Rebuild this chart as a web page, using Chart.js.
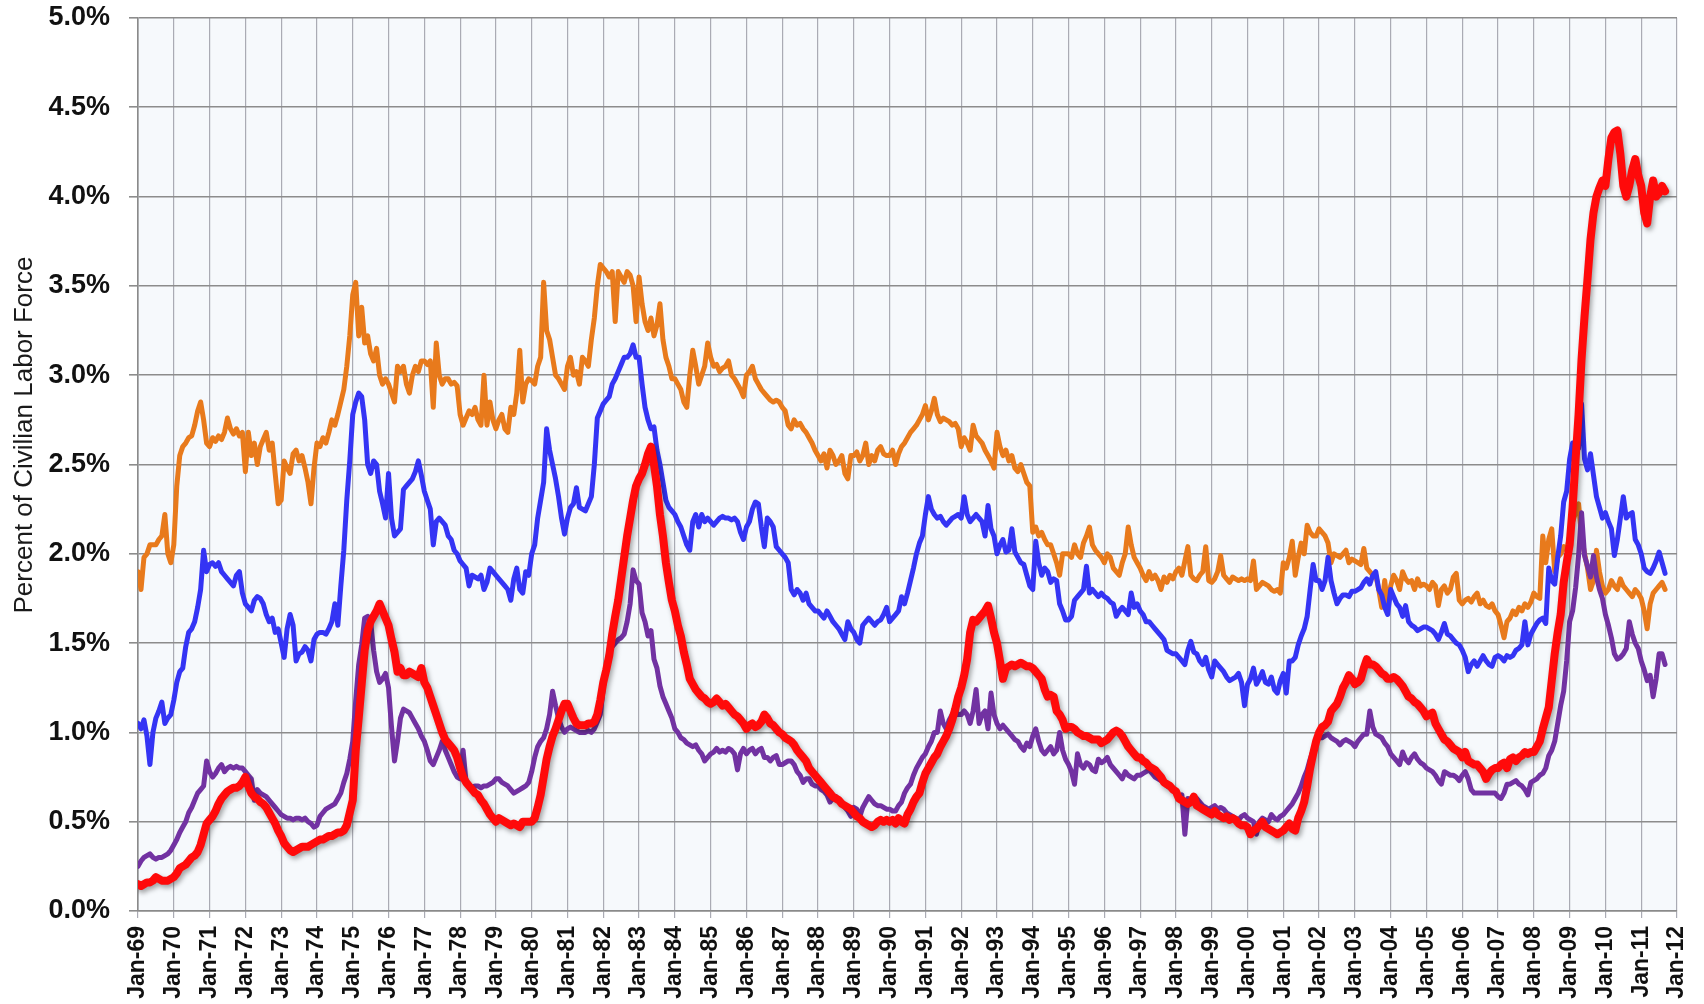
<!DOCTYPE html>
<html>
<head>
<meta charset="utf-8">
<script src="https://cdn.jsdelivr.net/npm/chart.js@4.4.1/dist/chart.umd.min.js"></script>
<style>
  html, body { margin: 0; padding: 0; background: #fff; }
  #wrap { width: 1704px; height: 1004px; position: relative; }
</style>
</head>
<body>
<div id="wrap"><canvas id="durationChart"></canvas></div>
<script>
// monthly, Jan-69 .. Sep-11 (percent of civilian labor force)
const yearTicks = ["Jan-69","Jan-70","Jan-71","Jan-72","Jan-73","Jan-74","Jan-75","Jan-76","Jan-77","Jan-78",
  "Jan-79","Jan-80","Jan-81","Jan-82","Jan-83","Jan-84","Jan-85","Jan-86","Jan-87","Jan-88","Jan-89",
  "Jan-90","Jan-91","Jan-92","Jan-93","Jan-94","Jan-95","Jan-96","Jan-97","Jan-98","Jan-99","Jan-00",
  "Jan-01","Jan-02","Jan-03","Jan-04","Jan-05","Jan-06","Jan-07","Jan-08","Jan-09","Jan-10","Jan-11","Jan-12"];

const yTitle = "Percent of Civilian Labor Force";

// less than 5 weeks (orange)
const under5 = [
  1.90,1.80,1.98,2.00,2.05,2.05,2.05,2.08,2.10,2.22,2.00,1.95,
  2.05,2.38,2.55,2.60,2.62,2.65,2.66,2.72,2.80,2.85,2.75,2.62,
  2.60,2.65,2.63,2.66,2.64,2.68,2.76,2.70,2.67,2.70,2.66,2.68,
  2.46,2.68,2.55,2.62,2.50,2.60,2.64,2.68,2.58,2.62,2.45,2.28,
  2.30,2.52,2.48,2.45,2.56,2.58,2.52,2.55,2.48,2.40,2.28,2.48,
  2.62,2.60,2.65,2.62,2.68,2.75,2.72,2.78,2.85,2.92,3.05,3.22,
  3.45,3.52,3.22,3.38,3.18,3.22,3.12,3.08,3.15,3.00,2.95,2.98,
  2.95,2.90,2.85,3.05,3.02,3.05,2.95,2.90,3.00,3.05,3.02,3.08,
  3.08,3.06,3.08,2.82,3.18,3.00,2.95,2.98,2.98,2.95,2.96,2.94,
  2.78,2.72,2.76,2.80,2.78,2.82,2.75,2.72,3.00,2.72,2.85,2.75,
  2.70,2.75,2.78,2.70,2.68,2.82,2.78,2.90,3.14,2.85,2.95,2.98,
  2.97,2.95,3.05,3.10,3.52,3.25,3.20,3.10,3.00,2.98,2.95,2.92,
  3.05,3.10,3.00,3.02,2.95,3.10,3.08,3.05,3.20,3.32,3.50,3.62,
  3.60,3.58,3.55,3.58,3.30,3.58,3.55,3.52,3.58,3.56,3.50,3.30,
  3.55,3.40,3.30,3.25,3.32,3.22,3.28,3.40,3.20,3.10,3.05,2.98,
  2.98,2.95,2.92,2.85,2.82,3.00,3.14,3.05,2.95,3.00,3.05,3.18,
  3.10,3.05,3.06,3.02,3.04,3.05,3.08,3.00,2.98,2.95,2.92,2.88,
  3.00,3.02,3.05,2.98,2.95,2.92,2.90,2.88,2.86,2.85,2.86,2.85,
  2.82,2.80,2.72,2.70,2.75,2.72,2.73,2.70,2.68,2.65,2.62,2.58,
  2.55,2.52,2.56,2.48,2.58,2.55,2.50,2.52,2.55,2.45,2.42,2.55,
  2.55,2.57,2.52,2.55,2.62,2.50,2.55,2.52,2.58,2.60,2.56,2.55,
  2.55,2.58,2.50,2.56,2.60,2.62,2.65,2.68,2.70,2.72,2.75,2.78,
  2.83,2.75,2.80,2.87,2.78,2.74,2.76,2.75,2.74,2.72,2.73,2.70,
  2.60,2.65,2.62,2.58,2.72,2.66,2.64,2.62,2.58,2.55,2.52,2.48,
  2.68,2.60,2.55,2.58,2.52,2.55,2.48,2.46,2.50,2.45,2.40,2.38,
  2.12,2.15,2.10,2.12,2.08,2.05,2.05,2.00,1.95,1.88,2.00,2.00,
  2.00,1.98,2.05,2.00,1.98,2.06,2.10,2.15,2.05,2.02,2.00,1.98,
  1.95,2.00,1.98,1.92,1.90,1.88,1.95,2.00,2.15,2.05,1.98,1.95,
  1.92,1.88,1.85,1.90,1.86,1.88,1.85,1.80,1.87,1.84,1.88,1.86,
  1.90,1.92,1.88,1.96,2.04,1.88,1.86,1.85,1.88,1.90,2.04,1.85,
  1.84,1.86,1.90,1.99,1.88,1.86,1.84,1.87,1.86,1.85,1.86,1.85,
  1.86,1.85,1.96,1.80,1.82,1.84,1.83,1.82,1.80,1.79,1.80,1.78,
  1.95,1.92,1.98,2.07,1.88,1.98,2.06,2.00,2.16,2.12,2.10,2.10,
  2.14,2.12,2.10,2.06,1.95,2.00,1.99,1.98,2.00,2.02,1.95,1.97,
  1.96,1.95,1.94,2.03,1.92,1.90,1.88,1.88,1.80,1.70,1.85,1.70,
  1.82,1.88,1.85,1.80,1.90,1.86,1.84,1.85,1.80,1.86,1.82,1.83,
  1.82,1.80,1.84,1.82,1.71,1.80,1.82,1.78,1.80,1.87,1.89,1.74,
  1.72,1.74,1.75,1.73,1.76,1.78,1.72,1.74,1.71,1.70,1.72,1.68,
  1.66,1.60,1.53,1.62,1.64,1.68,1.66,1.70,1.68,1.72,1.70,1.73,
  1.78,1.76,1.75,2.10,1.95,2.08,2.14,1.90,1.98,2.00,2.04,2.02,
  2.10,2.18,2.23,2.28,2.10,2.00,1.92,1.80,1.85,2.02,1.90,1.82,
  1.78,1.80,1.85,1.82,1.80,1.86,1.82,1.80,1.78,1.76,1.80,1.78,
  1.75,1.68,1.58,1.72,1.78,1.80,1.82,1.84,1.80
];

// 5 to 14 weeks (blue)
const weeks5to14 = [
  1.05,1.02,1.07,0.98,0.82,1.00,1.08,1.12,1.17,1.05,1.08,1.10,
  1.18,1.28,1.34,1.36,1.48,1.56,1.58,1.62,1.70,1.80,2.02,1.90,
  1.94,1.95,1.93,1.95,1.90,1.88,1.86,1.84,1.82,1.88,1.90,1.78,
  1.72,1.70,1.68,1.74,1.76,1.75,1.72,1.66,1.62,1.64,1.56,1.58,
  1.50,1.42,1.58,1.66,1.60,1.40,1.44,1.45,1.48,1.46,1.40,1.52,
  1.55,1.56,1.56,1.55,1.58,1.62,1.72,1.60,1.82,2.02,2.30,2.52,
  2.78,2.85,2.90,2.88,2.75,2.50,2.45,2.52,2.50,2.35,2.28,2.20,
  2.45,2.20,2.10,2.12,2.14,2.36,2.38,2.40,2.42,2.46,2.52,2.44,
  2.35,2.30,2.25,2.05,2.18,2.20,2.18,2.16,2.10,2.08,2.02,2.00,
  1.96,1.94,1.92,1.82,1.88,1.87,1.86,1.88,1.80,1.84,1.92,1.90,
  1.88,1.86,1.84,1.82,1.80,1.74,1.86,1.92,1.80,1.78,1.90,1.88,
  2.00,2.05,2.20,2.30,2.40,2.70,2.58,2.50,2.42,2.32,2.20,2.11,
  2.20,2.26,2.28,2.37,2.26,2.25,2.24,2.28,2.32,2.50,2.76,2.80,
  2.84,2.86,2.88,2.95,2.98,3.02,3.06,3.10,3.10,3.12,3.17,3.10,
  3.10,2.95,2.82,2.75,2.70,2.71,2.58,2.50,2.40,2.30,2.26,2.24,
  2.22,2.18,2.15,2.10,2.05,2.02,2.18,2.22,2.15,2.22,2.18,2.20,
  2.18,2.16,2.18,2.20,2.21,2.20,2.20,2.19,2.20,2.18,2.12,2.08,
  2.15,2.18,2.25,2.29,2.28,2.15,2.04,2.20,2.18,2.15,2.04,2.02,
  2.00,1.98,1.95,1.80,1.77,1.80,1.78,1.74,1.78,1.72,1.70,1.68,
  1.68,1.66,1.64,1.68,1.65,1.62,1.60,1.58,1.55,1.52,1.62,1.58,
  1.56,1.52,1.50,1.60,1.62,1.64,1.62,1.60,1.62,1.63,1.66,1.70,
  1.62,1.64,1.66,1.68,1.76,1.72,1.78,1.85,1.92,2.00,2.06,2.10,
  2.22,2.32,2.25,2.22,2.20,2.21,2.18,2.16,2.18,2.20,2.21,2.22,
  2.20,2.32,2.22,2.18,2.20,2.22,2.20,2.18,2.10,2.27,2.14,2.10,
  2.00,2.05,2.08,2.01,2.02,2.14,2.01,1.98,1.95,1.94,1.88,1.82,
  1.80,2.07,1.95,1.88,1.92,1.90,1.84,1.86,1.85,1.72,1.68,1.63,
  1.63,1.65,1.74,1.76,1.78,1.80,1.93,1.78,1.80,1.78,1.76,1.78,
  1.76,1.75,1.73,1.72,1.65,1.68,1.70,1.68,1.66,1.78,1.70,1.72,
  1.68,1.66,1.62,1.62,1.60,1.58,1.56,1.54,1.52,1.46,1.45,1.44,
  1.44,1.42,1.40,1.38,1.46,1.51,1.45,1.44,1.40,1.38,1.42,1.35,
  1.31,1.40,1.38,1.36,1.34,1.31,1.29,1.30,1.31,1.33,1.28,1.15,
  1.27,1.30,1.36,1.27,1.30,1.34,1.28,1.27,1.31,1.24,1.22,1.29,
  1.33,1.22,1.40,1.40,1.42,1.49,1.54,1.58,1.65,1.80,1.94,1.85,
  1.85,1.80,1.85,1.98,1.85,1.78,1.72,1.75,1.77,1.77,1.76,1.79,
  1.79,1.80,1.81,1.84,1.86,1.83,1.88,1.90,1.80,1.77,1.70,1.66,
  1.80,1.76,1.72,1.70,1.65,1.71,1.62,1.60,1.59,1.57,1.58,1.59,
  1.59,1.58,1.57,1.55,1.52,1.56,1.61,1.55,1.54,1.52,1.50,1.49,
  1.46,1.42,1.34,1.38,1.40,1.37,1.40,1.43,1.40,1.38,1.37,1.42,
  1.43,1.42,1.40,1.43,1.42,1.43,1.46,1.47,1.49,1.62,1.49,1.55,
  1.58,1.61,1.63,1.64,1.61,1.92,1.85,1.83,1.98,2.10,2.29,2.35,
  2.53,2.62,2.60,2.59,2.84,2.53,2.47,2.56,2.44,2.32,2.26,2.20,
  2.23,2.18,2.14,1.99,2.08,2.20,2.32,2.20,2.22,2.23,2.08,2.05,
  2.00,1.92,1.90,1.89,1.92,1.96,2.01,1.95,1.89
];

// 15 to 26 weeks (purple)
const weeks15to26 = [
  0.25,0.28,0.30,0.31,0.32,0.30,0.29,0.30,0.30,0.31,0.32,0.34,
  0.37,0.40,0.44,0.47,0.50,0.55,0.58,0.62,0.66,0.68,0.70,0.84,
  0.78,0.75,0.77,0.80,0.82,0.78,0.80,0.81,0.80,0.81,0.80,0.80,
  0.78,0.76,0.74,0.62,0.68,0.66,0.65,0.64,0.62,0.60,0.58,0.56,
  0.54,0.53,0.52,0.52,0.51,0.52,0.52,0.51,0.52,0.50,0.49,0.47,
  0.48,0.53,0.55,0.57,0.58,0.59,0.60,0.63,0.66,0.72,0.77,0.85,
  0.95,1.18,1.38,1.49,1.64,1.65,1.62,1.46,1.34,1.28,1.30,1.33,
  1.25,1.03,0.84,0.95,1.08,1.13,1.12,1.11,1.08,1.05,1.02,0.98,
  0.95,0.90,0.84,0.82,0.86,0.90,0.95,0.90,0.86,0.82,0.78,0.75,
  0.74,0.90,0.72,0.70,0.69,0.70,0.70,0.69,0.70,0.70,0.71,0.72,
  0.74,0.74,0.72,0.71,0.70,0.68,0.66,0.67,0.68,0.69,0.70,0.72,
  0.78,0.86,0.92,0.95,0.97,1.02,1.10,1.23,1.15,1.08,1.03,1.00,
  1.02,1.03,1.02,1.01,1.00,1.00,1.00,1.01,1.00,1.02,1.06,1.10,
  1.25,1.36,1.47,1.48,1.50,1.52,1.53,1.55,1.62,1.72,1.91,1.85,
  1.83,1.67,1.62,1.54,1.57,1.41,1.36,1.26,1.20,1.16,1.12,1.08,
  1.02,1.00,0.97,0.96,0.94,0.93,0.92,0.93,0.90,0.88,0.84,0.86,
  0.88,0.89,0.91,0.89,0.90,0.89,0.91,0.90,0.88,0.79,0.88,0.91,
  0.88,0.90,0.91,0.88,0.90,0.91,0.86,0.86,0.84,0.86,0.87,0.82,
  0.82,0.83,0.84,0.84,0.82,0.78,0.76,0.72,0.74,0.74,0.71,0.70,
  0.70,0.68,0.67,0.65,0.61,0.63,0.64,0.62,0.61,0.58,0.56,0.53,
  0.58,0.57,0.53,0.58,0.61,0.64,0.62,0.60,0.59,0.59,0.58,0.57,
  0.57,0.56,0.56,0.59,0.61,0.66,0.69,0.71,0.76,0.80,0.83,0.86,
  0.88,0.92,0.95,1.00,1.00,1.12,1.05,1.02,1.07,1.10,1.12,1.10,
  1.10,1.12,1.10,1.05,1.12,1.24,1.05,1.10,1.12,1.02,1.22,1.10,
  1.05,1.02,1.04,1.02,1.00,0.98,0.96,0.95,0.92,0.90,0.94,0.92,
  0.98,1.02,0.95,0.90,0.88,0.90,0.92,0.88,0.90,1.00,0.90,0.85,
  0.82,0.78,0.71,0.88,0.82,0.80,0.83,0.82,0.79,0.78,0.85,0.83,
  0.84,0.86,0.82,0.80,0.78,0.76,0.74,0.78,0.76,0.75,0.74,0.76,
  0.76,0.77,0.78,0.79,0.77,0.75,0.74,0.73,0.72,0.70,0.69,0.68,
  0.66,0.63,0.65,0.43,0.63,0.62,0.61,0.63,0.61,0.59,0.58,0.57,
  0.58,0.59,0.57,0.58,0.57,0.55,0.54,0.53,0.52,0.51,0.53,0.54,
  0.52,0.51,0.50,0.43,0.50,0.52,0.51,0.50,0.54,0.52,0.51,0.53,
  0.54,0.56,0.58,0.60,0.63,0.66,0.70,0.75,0.79,0.85,0.90,0.96,
  0.97,0.97,0.98,0.99,0.97,0.96,0.95,0.93,0.95,0.96,0.95,0.94,
  0.92,0.95,0.97,0.99,0.99,1.12,1.03,0.99,0.98,0.97,0.94,0.92,
  0.88,0.86,0.84,0.82,0.89,0.85,0.83,0.86,0.88,0.85,0.83,0.82,
  0.80,0.79,0.78,0.76,0.73,0.71,0.78,0.77,0.76,0.76,0.75,0.73,
  0.76,0.78,0.74,0.68,0.66,0.66,0.66,0.66,0.66,0.66,0.66,0.66,
  0.64,0.63,0.66,0.71,0.71,0.72,0.73,0.71,0.70,0.68,0.65,0.72,
  0.73,0.74,0.76,0.77,0.80,0.87,0.90,0.95,1.05,1.15,1.23,1.40,
  1.62,1.68,1.81,1.99,2.23,1.99,1.93,1.87,1.99,1.87,1.80,1.75,
  1.66,1.60,1.53,1.44,1.41,1.42,1.44,1.47,1.62,1.55,1.50,1.47,
  1.40,1.35,1.29,1.32,1.20,1.30,1.44,1.44,1.38
];

// 27 weeks or more (red)
const weeks27plus = [
  0.15,0.14,0.15,0.16,0.16,0.17,0.19,0.18,0.17,0.17,0.17,0.18,
  0.19,0.21,0.24,0.25,0.26,0.28,0.30,0.31,0.33,0.37,0.43,0.49,
  0.51,0.53,0.56,0.60,0.63,0.65,0.67,0.68,0.69,0.69,0.70,0.72,
  0.75,0.70,0.66,0.64,0.63,0.61,0.60,0.58,0.55,0.52,0.49,0.45,
  0.42,0.38,0.36,0.34,0.33,0.34,0.35,0.36,0.36,0.36,0.37,0.38,
  0.39,0.40,0.40,0.41,0.42,0.42,0.43,0.44,0.44,0.45,0.48,0.55,
  0.62,0.90,1.08,1.27,1.46,1.57,1.62,1.65,1.68,1.72,1.68,1.64,
  1.60,1.52,1.45,1.34,1.36,1.32,1.32,1.34,1.33,1.32,1.31,1.36,
  1.28,1.25,1.20,1.15,1.10,1.05,1.00,0.96,0.94,0.92,0.90,0.86,
  0.80,0.75,0.72,0.70,0.68,0.66,0.65,0.62,0.60,0.57,0.54,0.52,
  0.50,0.52,0.51,0.50,0.49,0.48,0.49,0.48,0.47,0.50,0.50,0.50,
  0.50,0.52,0.58,0.65,0.75,0.85,0.92,0.98,1.02,1.07,1.12,1.16,
  1.16,1.12,1.08,1.05,1.04,1.04,1.04,1.05,1.05,1.06,1.10,1.18,
  1.28,1.35,1.43,1.55,1.65,1.74,1.86,1.98,2.10,2.20,2.30,2.38,
  2.42,2.45,2.50,2.56,2.60,2.50,2.38,2.22,2.10,1.95,1.84,1.74,
  1.68,1.60,1.54,1.45,1.38,1.30,1.27,1.24,1.22,1.20,1.19,1.17,
  1.16,1.17,1.19,1.17,1.15,1.16,1.14,1.12,1.10,1.09,1.07,1.05,
  1.02,1.04,1.05,1.03,1.04,1.06,1.10,1.08,1.05,1.04,1.02,1.00,
  0.99,0.97,0.96,0.95,0.93,0.90,0.88,0.86,0.84,0.80,0.78,0.76,
  0.74,0.72,0.70,0.68,0.66,0.64,0.63,0.62,0.60,0.59,0.58,0.57,
  0.55,0.53,0.52,0.50,0.49,0.48,0.47,0.48,0.50,0.51,0.50,0.51,
  0.50,0.51,0.49,0.52,0.50,0.49,0.54,0.57,0.61,0.64,0.66,0.72,
  0.77,0.80,0.83,0.86,0.88,0.92,0.95,0.98,1.02,1.07,1.13,1.20,
  1.25,1.32,1.41,1.56,1.63,1.62,1.64,1.66,1.68,1.71,1.64,1.56,
  1.50,1.40,1.30,1.36,1.37,1.38,1.37,1.38,1.39,1.38,1.37,1.37,
  1.36,1.34,1.32,1.30,1.24,1.20,1.21,1.20,1.12,1.10,1.07,1.02,
  1.03,1.03,1.02,1.00,0.99,0.98,0.98,0.97,0.96,0.96,0.96,0.94,
  0.95,0.96,0.98,1.00,1.01,1.00,0.98,0.95,0.92,0.90,0.88,0.86,
  0.86,0.84,0.83,0.81,0.80,0.79,0.77,0.75,0.72,0.71,0.70,0.68,
  0.67,0.63,0.62,0.61,0.60,0.61,0.64,0.59,0.58,0.57,0.56,0.55,
  0.54,0.56,0.54,0.53,0.52,0.53,0.51,0.52,0.51,0.49,0.48,0.48,
  0.47,0.43,0.45,0.46,0.48,0.50,0.47,0.46,0.45,0.44,0.43,0.44,
  0.45,0.47,0.49,0.46,0.45,0.52,0.56,0.61,0.70,0.80,0.88,0.95,
  1.00,1.03,1.04,1.06,1.12,1.14,1.16,1.20,1.25,1.28,1.32,1.30,
  1.27,1.28,1.30,1.36,1.41,1.38,1.38,1.37,1.35,1.33,1.32,1.30,
  1.30,1.31,1.30,1.28,1.26,1.23,1.20,1.19,1.17,1.16,1.14,1.12,
  1.09,1.10,1.11,1.05,1.02,0.99,0.96,0.95,0.93,0.91,0.90,0.89,
  0.86,0.89,0.84,0.83,0.82,0.82,0.80,0.78,0.74,0.77,0.79,0.80,
  0.80,0.82,0.83,0.80,0.85,0.86,0.84,0.86,0.87,0.89,0.88,0.89,
  0.89,0.92,0.95,1.02,1.08,1.14,1.29,1.44,1.56,1.66,1.84,1.95,
  2.05,2.26,2.53,2.78,3.09,3.33,3.54,3.76,3.91,4.00,4.05,4.09,
  4.06,4.21,4.33,4.36,4.37,4.24,4.06,4.00,4.06,4.15,4.21,4.12,
  4.06,3.91,3.85,4.00,4.09,4.00,4.02,4.06,4.03
];

const toPoints = arr => arr.map((v, i) => ({ x: i, y: v }));

// plot background + rotated axis title
const plotBg = {
  id: "plotBg",
  beforeDraw(chart) {
    const { ctx, chartArea: a } = chart;
    ctx.save();
    ctx.fillStyle = "#f6f9fc";
    ctx.fillRect(a.left, a.top, a.right - a.left, a.bottom - a.top);
    ctx.restore();
  },
  afterDraw(chart) {
    const { ctx, chartArea: a } = chart;
    ctx.save();
    ctx.translate(25, a.top + (a.bottom - a.top) * 0.467);
    ctx.rotate(-Math.PI / 2);
    ctx.font = '26px "Liberation Sans", Arial, sans-serif';
    ctx.fillStyle = "#1a1a1a";
    ctx.textAlign = "center";
    ctx.textBaseline = "middle";
    ctx.fillText(yTitle, 0, 0);
    ctx.restore();
  }
};

// drop shadow under the thick red line
const redShadow = {
  id: "redShadow",
  beforeDatasetDraw(chart, args) {
    if (args.index !== 0) return;
    const ctx = chart.ctx;
    ctx.save();
    ctx.shadowColor = "rgba(0,0,0,0.35)";
    ctx.shadowBlur = 5;
    ctx.shadowOffsetX = 2;
    ctx.shadowOffsetY = 3;
  },
  afterDatasetDraw(chart, args) {
    if (args.index !== 0) return;
    chart.ctx.restore();
  }
};

const lastTick = (yearTicks.length - 1) * 12;

new Chart(document.getElementById("durationChart"), {
  type: "line",
  data: {
    datasets: [
      { label: "27 weeks or more", data: toPoints(weeks27plus), borderColor: "#ff0a0a", borderWidth: 8 },
      { label: "15 to 26 weeks", data: toPoints(weeks15to26), borderColor: "#7232a2", borderWidth: 5 },
      { label: "5 to 14 weeks", data: toPoints(weeks5to14), borderColor: "#3434f4", borderWidth: 5 },
      { label: "Less than 5 weeks", data: toPoints(under5), borderColor: "#e87a1c", borderWidth: 5 }
    ]
  },
  options: {
    responsive: true,
    maintainAspectRatio: false,
    animation: false,
    layout: { padding: { top: 18, right: 27, left: 0, bottom: 0 } },
    elements: {
      point: { radius: 0 },
      line: { tension: 0, borderJoinStyle: "round", borderCapStyle: "round" }
    },
    plugins: { legend: { display: false }, tooltip: { enabled: false } },
    scales: {
      x: {
        type: "linear",
        min: 0,
        max: lastTick,
        afterFit: s => { s.height = 93; s.paddingLeft = 0; s.paddingRight = 0; },
        grid: { color: "#aaabb4", lineWidth: 1.2, tickLength: 7 },
        border: { color: "#8a8a8a", width: 1.6 },
        ticks: {
          stepSize: 12,
          maxTicksLimit: 100,
          autoSkip: false,
          minRotation: 90,
          maxRotation: 90,
          padding: 8,
          color: "#111",
          font: { family: '"Liberation Sans", Arial, sans-serif', size: 23, weight: "bold" },
          callback: v => yearTicks[v / 12]
        }
      },
      y: {
        min: 0,
        max: 5,
        afterFit: s => { s.width = 138; s.paddingTop = 0; s.paddingBottom = 0; },
        grid: { color: "#8c8c8c", lineWidth: 1.6, tickLength: 9 },
        border: { color: "#8a8a8a", width: 1.6 },
        ticks: {
          stepSize: 0.5,
          padding: 19,
          color: "#111",
          font: { family: '"Liberation Sans", Arial, sans-serif', size: 27, weight: "bold" },
          callback: v => v.toFixed(1) + "%"
        }
      }
    }
  },
  plugins: [plotBg, redShadow]
});
</script>
</body>
</html>
